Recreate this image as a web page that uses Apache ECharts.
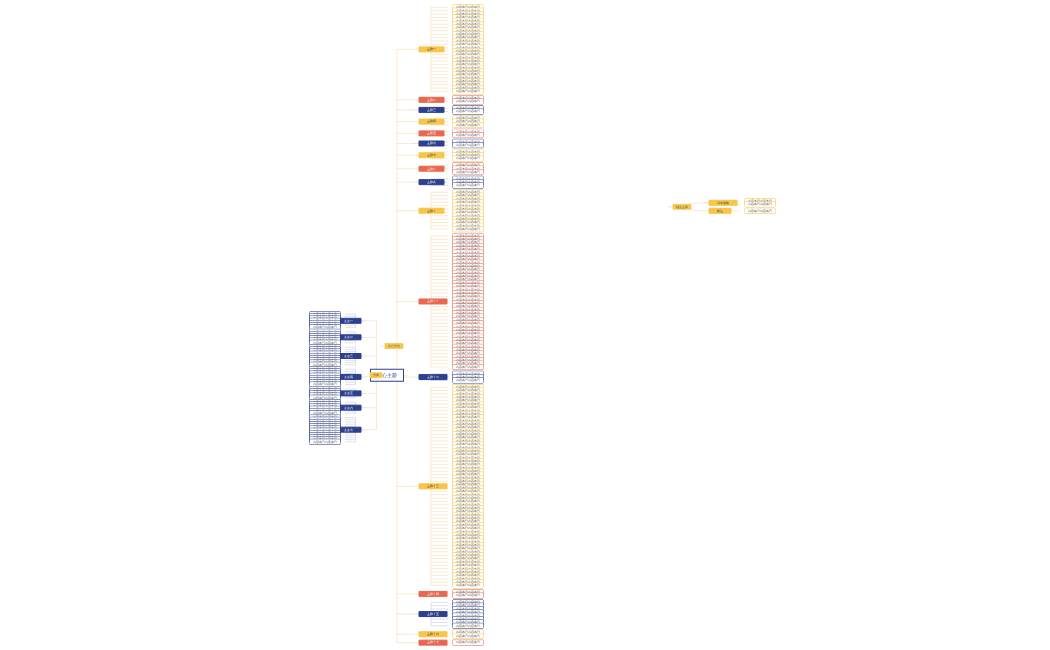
<!DOCTYPE html>
<html>
<head>
<meta charset="utf-8">
<script src="https://cdn.jsdelivr.net/npm/echarts@6/dist/echarts.min.js"></script>
<style>body{margin:0;background:#fff}#main{width:1050px;height:650px}</style>
</head>
<body>
<div id="main"></div>
<script>
// main branches on the right side, top to bottom
var branchNames = ['主题一','主题二','主题三','主题四','主题五','主题六','主题七','主题八','主题九','主题十','主题十一','主题十二','主题十三','主题十四','主题十五','主题十六','主题十七'];
var branchColors = ['#f7c548','#e8674f','#2d3f8f','#f7c548','#e8674f','#2d3f8f','#f7c548','#e8674f','#2d3f8f','#f7c548','#e8674f','#2d3f8f','#f7c548','#e8674f','#2d3f8f','#f7c548','#e8674f'];
var leafCounts = [26, 2, 2, 3, 2, 2, 3, 3, 3, 12, 40, 3, 60, 2, 8, 2, 1];
// left side sub-branches
var leftNames = ['要点一','要点二','要点三','要点四','要点五','要点六','要点七'];
var leftCounts = [7, 6, 9, 8, 5, 6, 12];
var sideNames = ['补充说明','附注'];
var sideCounts = [2, 1];

function leaves(n, color) {
  var out = [];
  for (var i = 0; i < n; i++) out.push({name: '内容条目内容条目', label: {borderColor: color}});
  return out;
}
function branch(name, n, color) {
  return {name: name, label: {backgroundColor: color, color: color === '#f7c548' ? '#333' : '#fff', borderColor: color, padding: [1, 8]},
    lineStyle: {color: color === '#2d3f8f' ? '#c8cce0' : '#f6dcb0'}, children: leaves(n, color)};
}
var rightRoot = {name: '中心分支', label: {backgroundColor: '#f7c548'}, children: branchNames.map(function (b, i) { return branch(b, leafCounts[i], branchColors[i]); })};
var leftRoot = {name: '中心主题', label: {backgroundColor: '#fff', borderColor: '#2d3f8f', borderWidth: 1, color: '#2d3f8f', fontSize: 5, padding: [3, 6]},
  children: [{name: '分类', label: {backgroundColor: '#f7c548'}, children: leftNames.map(function (b, i) { return branch(b, leftCounts[i], '#2d3f8f'); })}]};
var sideRoot = {name: '独立主题', label: {backgroundColor: '#f7c548'}, children: sideNames.map(function (b, i) { return branch(b, sideCounts[i], '#f7c548'); })};

var baseLabel = {fontSize: 3, color: '#555', backgroundColor: '#fff', borderColor: '#f1d79a', borderWidth: 0.5, padding: [1, 3], position: 'right', verticalAlign: 'middle', align: 'left'};
function tree(data, box, orient, shape) {
  return Object.assign({type: 'tree', data: [data], orient: orient, symbol: 'none', edgeShape: shape, roam: false,
    initialTreeDepth: -1, expandAndCollapse: false, animation: false,
    lineStyle: {color: '#f3dcae', width: 0.6, curveness: 0.5},
    label: Object.assign({}, baseLabel, orient === 'RL' ? {position: 'left', align: 'right'} : {}),
    leaves: {label: Object.assign({}, baseLabel, orient === 'RL' ? {position: 'left', align: 'right'} : {})}}, box);
}
var chart = echarts.init(document.getElementById('main'));
chart.setOption({
  series: [
    tree(rightRoot, {left: 380, right: 602, top: 4, bottom: 4}, 'LR', 'polyline'),
    tree(leftRoot, {left: 345, right: 642, top: 312, bottom: 206}, 'RL', 'polyline'),
    tree(sideRoot, {left: 668, right: 310, top: 198, bottom: 436}, 'LR', 'curve')
  ]
});
</script>
</body>
</html>
